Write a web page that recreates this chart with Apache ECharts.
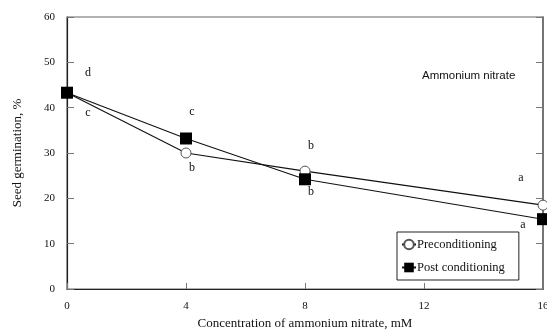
<!DOCTYPE html>
<html>
<head>
<meta charset="utf-8">
<script src="https://cdn.jsdelivr.net/npm/echarts@6/dist/echarts.min.js"></script>
<style>html,body{margin:0;padding:0;background:#fff}#c{width:547px;height:333px}</style>
</head>
<body>
<div id="c"></div>
<script>
var concentrations = [0, 4, 8, 16];
var preValues = [43.3, 30.0, 26.0, 18.5];
var postValues = [43.3, 33.2, 24.2, 15.4];
var preLetters = ['c', 'b', 'b', 'a'];
var postLetters = ['d', 'c', 'b', 'a'];
var xTicks = [0, 4, 8, 12, 16];
var yTicks = [0, 10, 20, 30, 40, 50, 60];

var preOffsets = [[21, 20], [6, 15], [6, -25], [-22, -27]];
var postOffsets = [[21, -20], [6, -27], [6, 13], [-20, 6]];

var serif = '"Liberation Serif", "DejaVu Serif", serif';
var axisColor = '#222';

function buildData(vals, letters, offsets) {
  return concentrations.map(function (c, i) {
    return {
      value: [c, vals[i]],
      label: {
        show: true, formatter: letters[i], position: 'inside', offset: offsets[i],
        fontFamily: serif, fontSize: 12, color: '#111'
      }
    };
  });
}

var chart = echarts.init(document.getElementById('c'), null, { renderer: 'canvas' });
chart.setOption({
  animation: false,
  backgroundColor: '#fff',
  title: {
    text: 'Ammonium nitrate', left: 417, top: 65,
    textStyle: { fontFamily: 'Arial, "Liberation Sans", sans-serif', fontSize: 11.5, fontWeight: 'normal', color: '#111' }
  },
  grid: { left: 67, right: 4, top: 17, bottom: 44, containLabel: false, outerBoundsMode: 'none',
    show: true, borderColor: '#666', borderWidth: 1.2, backgroundColor: 'transparent' },
  legend: {
    orient: 'vertical', left: 397, top: 232,
    padding: [6, 14, 6, 4], itemGap: 10, itemWidth: 14, itemHeight: 12,
    borderColor: '#222', borderWidth: 1, backgroundColor: '#fff',
    textStyle: { fontFamily: serif, fontSize: 12.5, color: '#111', padding: [0, 0, 0, -4] },
    data: ['Preconditioning', 'Post conditioning']
  },
  xAxis: [{
    type: 'value', gridIndex: 0, position: 'bottom', min: xTicks[0], max: xTicks[xTicks.length - 1], interval: 4,
    name: 'Concentration of ammonium nitrate, mM', nameLocation: 'middle', nameGap: 28,
    nameTextStyle: { fontFamily: serif, fontSize: 13, color: '#111' },
    axisLine: { show: true, onZero: false, lineStyle: { color: axisColor, width: 1.2 } },
    axisTick: { show: true, inside: true, length: 6, lineStyle: { color: '#777' } },
    axisLabel: { fontFamily: serif, fontSize: 11, color: '#111', margin: 12 },
    splitLine: { show: false }
  }],
  yAxis: [{
    type: 'value', gridIndex: 0, position: 'left', min: yTicks[0], max: yTicks[yTicks.length - 1], interval: 10,
    name: 'Seed germination, %', nameLocation: 'middle', nameGap: 43,
    nameTextStyle: { fontFamily: serif, fontSize: 13, color: '#111' },
    axisLine: { show: true, onZero: false, lineStyle: { color: axisColor, width: 1.2 } },
    axisTick: { show: true, inside: true, length: 7, lineStyle: { color: '#777' } },
    axisLabel: { fontFamily: serif, fontSize: 11, color: '#111', margin: 12 },
    splitLine: { show: false }
  }, {
    type: 'value', gridIndex: 0, position: 'right', min: yTicks[0], max: yTicks[yTicks.length - 1], interval: 10,
    axisLine: { show: true, onZero: false, lineStyle: { color: '#666', width: 1.5 } },
    axisTick: { show: true, inside: true, length: 7, lineStyle: { color: '#777' } },
    axisLabel: { show: false }, splitLine: { show: false }
  }],
  series: [{
    name: 'Preconditioning', type: 'line', xAxisIndex: 0, yAxisIndex: 0,
    data: buildData(preValues, preLetters, preOffsets),
    symbol: 'circle', symbolSize: 10,
    lineStyle: { color: '#111', width: 1.1 },
    itemStyle: { color: '#fff', borderColor: '#555', borderWidth: 1 },
    z: 2
  }, {
    name: 'Post conditioning', type: 'line', xAxisIndex: 0, yAxisIndex: 0,
    data: buildData(postValues, postLetters, postOffsets),
    symbol: 'rect', symbolSize: 12,
    lineStyle: { color: '#111', width: 1.1 },
    itemStyle: { color: '#000', borderColor: '#000', borderWidth: 0 },
    z: 3
  }, {
    name: 'frame', type: 'line', xAxisIndex: 0, yAxisIndex: 1,
    data: [], silent: true, showSymbol: false
  }]
});
</script>
</body>
</html>
